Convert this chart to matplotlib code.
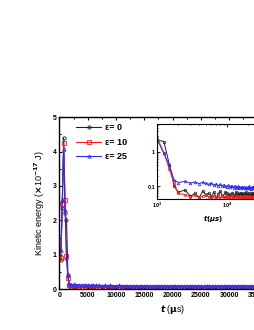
import matplotlib
matplotlib.use("Agg")
import matplotlib.pyplot as plt
from matplotlib.ticker import MultipleLocator, LogLocator, FixedLocator, NullFormatter

plt.rcParams["font.family"] = ["Liberation Sans", "DejaVu Sans"]
plt.rcParams["font.weight"] = "bold"
plt.rcParams["mathtext.default"] = "bf"

# sampling times (µs): dense around the pulse, then every 500 µs
t_us = [250, 500, 750, 1000, 1250, 1500, 1750] + list(range(2000, 40001, 500))

# kinetic energy (x1e-17 J) -- rise/fall of the pulse
black_rise = [0.84, 2.35, 4.40, 2.20, 2.00, 0.42, 0.10]
red_rise = [0.91, 2.48, 4.26, 2.60, 0.95, 0.31, 0.12]
blue_rise = [1.13, 2.59, 4.07, 2.31, 0.90, 0.40, 0.15]

# noisy tails, 2000..40000 µs
black_tail = [
    0.065, 0.075, 0.050, 0.060, 0.045, 0.070, 0.055, 0.060, 0.048, 0.066,
    0.045, 0.058, 0.070, 0.050, 0.055, 0.064, 0.060, 0.052, 0.058, 0.047,
    0.062, 0.055, 0.050, 0.066, 0.058, 0.049, 0.060, 0.054, 0.063, 0.050,
    0.057, 0.061, 0.048, 0.056, 0.064, 0.052, 0.059, 0.050, 0.062, 0.055,
    0.047, 0.058, 0.063, 0.051, 0.056, 0.060, 0.049, 0.057, 0.062, 0.053,
    0.058, 0.050, 0.061, 0.055, 0.048, 0.059, 0.063, 0.052, 0.057, 0.050,
    0.060, 0.054, 0.049, 0.058, 0.062, 0.051, 0.056, 0.060, 0.053, 0.047,
    0.058, 0.061, 0.052, 0.056, 0.050, 0.059, 0.054]
red_tail = [
    0.060, 0.055, 0.048, 0.052, 0.045, 0.050, 0.056, 0.047, 0.043, 0.051,
    0.046, 0.049, 0.042, 0.053, 0.047, 0.044, 0.050, 0.046, 0.041, 0.048,
    0.052, 0.045, 0.043, 0.049, 0.046, 0.040, 0.047, 0.050, 0.044, 0.042,
    0.048, 0.045, 0.051, 0.043, 0.046, 0.049, 0.041, 0.047, 0.044, 0.050,
    0.045, 0.042, 0.048, 0.046, 0.043, 0.049, 0.045, 0.041, 0.047, 0.050,
    0.044, 0.046, 0.042, 0.048, 0.045, 0.043, 0.049, 0.046, 0.041, 0.047,
    0.044, 0.050, 0.045, 0.042, 0.048, 0.046, 0.043, 0.047, 0.045, 0.049,
    0.042, 0.046, 0.044, 0.048, 0.043, 0.047, 0.045]
blue_tail = [
    0.125, 0.135, 0.120, 0.130, 0.115, 0.128, 0.118, 0.110, 0.122, 0.105,
    0.115, 0.100, 0.112, 0.098, 0.108, 0.102, 0.095, 0.105, 0.092, 0.100,
    0.096, 0.088, 0.099, 0.093, 0.087, 0.097, 0.091, 0.085, 0.094, 0.090,
    0.086, 0.095, 0.089, 0.084, 0.093, 0.088, 0.091, 0.085, 0.096, 0.089,
    0.083, 0.092, 0.087, 0.090, 0.084, 0.094, 0.088, 0.082, 0.091, 0.086,
    0.089, 0.083, 0.093, 0.087, 0.085, 0.090, 0.084, 0.092, 0.088, 0.082,
    0.089, 0.086, 0.091, 0.084, 0.087, 0.093, 0.085, 0.088, 0.083, 0.090,
    0.086, 0.092, 0.084, 0.089, 0.087, 0.091, 0.085]

series = [
    ("ε= 0", black_rise + black_tail, "#222222", "o"),
    ("ε= 10", red_rise + red_tail, "#ff1a1a", "s"),
    ("ε= 25", blue_rise + blue_tail, "#2a2aff", "^"),
]

fig = plt.figure(figsize=(2.55, 3.30), dpi=100)
ax = fig.add_axes([0.233, 0.124, 0.888, 0.521])

for label, ke, color, marker in series:
    ax.plot(t_us, ke, color=color, marker=marker, ms=2.4, mfc="none", mew=0.6,
            lw=0.8, label=label)

ax.set_xlim(0, 40000)
ax.set_ylim(0, 5)
ax.xaxis.set_major_locator(MultipleLocator(5000))
ax.xaxis.set_minor_locator(MultipleLocator(2500))
ax.yaxis.set_major_locator(MultipleLocator(1))
ax.yaxis.set_minor_locator(MultipleLocator(0.5))
ax.tick_params(which="both", direction="in", top=True, right=True, labelsize=5, width=0.8, pad=2)
ax.tick_params(which="major", length=2.5)
ax.tick_params(which="minor", length=1.5)
for sp in ax.spines.values():
    sp.set_linewidth(1.0)
ax.set_xlabel(r"$\mathit{t}$ ($\mu$s)", fontsize=6.5, labelpad=3)
ax.set_ylabel(r"Kinetic energy ($\times$10$^{-17}$ J)", fontsize=6.5, labelpad=4)

ax.legend(loc="upper left", bbox_to_anchor=(0.045, 1.0), frameon=False, fontsize=6.5,
          numpoints=1, handlelength=2.8, handletextpad=0.4, labelspacing=0.6,
          borderaxespad=0.3)

# inset, log-log view of the decay
ins = fig.add_axes([0.616, 0.397, 0.439, 0.227])
for label, ke, color, marker in series:
    ins.plot(t_us, ke, color=color, marker=marker, ms=1.9, mfc="none", mew=0.5, lw=0.7)
ins.set_xscale("log")
ins.set_yscale("log")
ins.set_xlim(1000, 40000)
ins.set_ylim(0.041, 6.5)
ins.yaxis.set_major_locator(FixedLocator([0.1, 1]))
ins.set_yticklabels(["0,1", "1"])
ins.yaxis.set_minor_locator(LogLocator(base=10, subs=range(2, 10)))
ins.yaxis.set_minor_formatter(NullFormatter())
ins.tick_params(which="both", direction="in", top=True, right=True, labelsize=4, width=0.6, pad=1.5)
ins.tick_params(which="major", length=2)
ins.tick_params(which="minor", length=1)
for sp in ins.spines.values():
    sp.set_linewidth(0.8)
ins.set_xlabel(r"$\mathit{t(\mu s)}$", fontsize=5, labelpad=2)

fig.savefig("out.png", dpi=100)
